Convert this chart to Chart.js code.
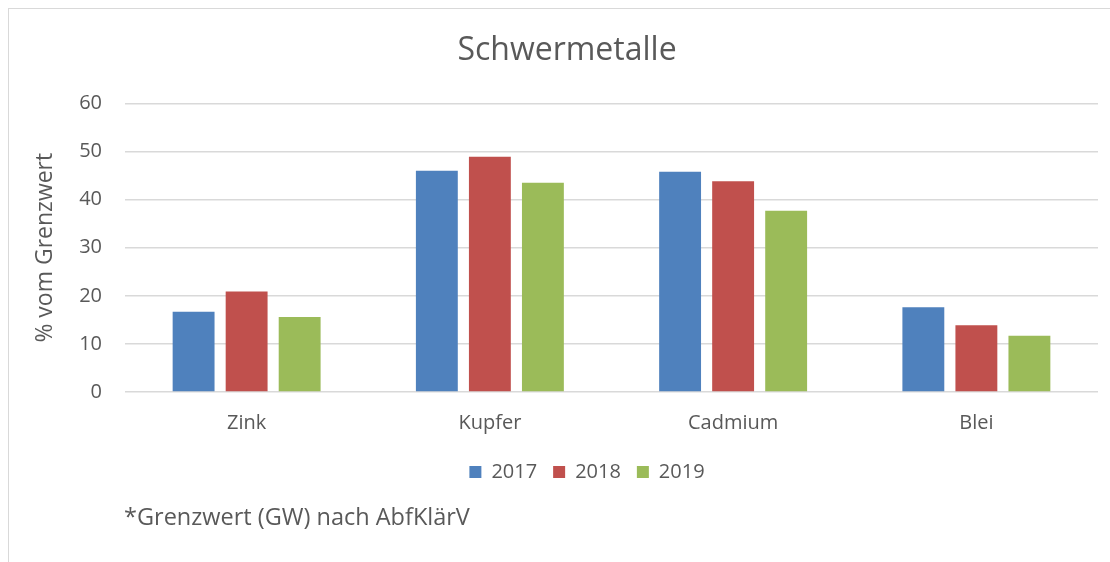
<!DOCTYPE html>
<html>
<head>
<meta charset="utf-8">
<script src="https://cdn.jsdelivr.net/npm/chart.js@4/dist/chart.umd.min.js"></script>
<style>
  html, body { margin: 0; padding: 0; background: #ffffff; }
  #wrap { position: relative; width: 1110px; height: 562px; overflow: hidden; background: #fff; }
  #frame { position: absolute; left: 8px; top: 8px; right: -2px; bottom: -2px; border-top: 1.5px solid #d9d9d9; border-left: 1.5px solid #d9d9d9; }
  canvas { position: absolute; left: 0; top: 0; }
  #note { position: absolute; left: 124px; top: 500px; font-family: "Open Sans", sans-serif; font-size: 23.5px; color: #595959; white-space: nowrap; line-height: 32px; }
</style>
</head>
<body>
<div id="wrap">
  <div id="frame"></div>
  <canvas id="c" width="1110" height="562"></canvas>
  <div id="note">*Grenzwert (GW) nach AbfKlärV</div>
</div>
<script>
const categories = ["Zink", "Kupfer", "Cadmium", "Blei"];
const seriesNames = ["2017", "2018", "2019"];
const values2017 = [16.7, 46.0, 45.8, 17.6];
const values2018 = [20.9, 48.9, 43.8, 13.9];
const values2019 = [15.6, 43.5, 37.7, 11.7];
const yTicks = [0, 10, 20, 30, 40, 50, 60];
const colors = ["#4F81BD", "#C0504D", "#9BBB59"];

const textColor = "#595959";
const fontFamily = "'Open Sans', sans-serif";
const LEGEND_SHIFT = 24;
const TITLE_SHIFT = 4;

const shiftBoxes = {
  id: "shiftBoxes",
  afterLayout(chart) {
    if (chart.legend) {
      chart.legend.left += LEGEND_SHIFT;
      chart.legend.right += LEGEND_SHIFT;
    }
    if (chart.titleBlock) {
      chart.titleBlock.left += TITLE_SHIFT;
      chart.titleBlock.right += TITLE_SHIFT;
    }
  }
};

const ctx = document.getElementById("c").getContext("2d");
new Chart(ctx, {
  type: "bar",
  data: {
    labels: categories,
    datasets: [values2017, values2018, values2019].map((vals, i) => ({
      label: seriesNames[i],
      data: vals,
      backgroundColor: colors[i],
      borderWidth: 0,
      categoryPercentage: 0.654,
      barPercentage: 0.79
    }))
  },
  plugins: [shiftBoxes],
  options: {
    responsive: false,
    animation: false,
    devicePixelRatio: 1,
    layout: { padding: { left: 28, right: 12, top: 0, bottom: 70 } },
    plugins: {
      title: {
        display: true,
        text: "Schwermetalle",
        color: textColor,
        font: { family: fontFamily, size: 32, weight: "normal" },
        padding: { top: 32, bottom: 33 }
      },
      legend: {
        display: true,
        position: "bottom",
        labels: {
          color: textColor,
          font: { family: fontFamily, size: 20 },
          boxWidth: 12,
          boxHeight: 12,
          padding: 16
        }
      },
      tooltip: { enabled: false }
    },
    scales: {
      x: {
        grid: { display: false, drawTicks: false },
        border: { display: false },
        ticks: { color: textColor, font: { family: fontFamily, size: 20 }, padding: 19, maxRotation: 0 },
        afterFit: (s) => { s.height = 54; }
      },
      y: {
        min: 0,
        max: 60,
        afterBuildTicks: (s) => { s.ticks = yTicks.map(v => ({ value: v })); },
        grid: { color: "#d9d9d9", lineWidth: 1.5, drawTicks: false },
        border: { display: false },
        ticks: { color: textColor, font: { family: fontFamily, size: 20 }, padding: 23 },
        title: {
          display: true,
          text: "% vom Grenzwert",
          color: textColor,
          font: { family: fontFamily, size: 23 },
          padding: { top: 4, bottom: 0 }
        },
        afterFit: (s) => { s.width = 97; }
      }
    }
  }
});
</script>
</body>
</html>
